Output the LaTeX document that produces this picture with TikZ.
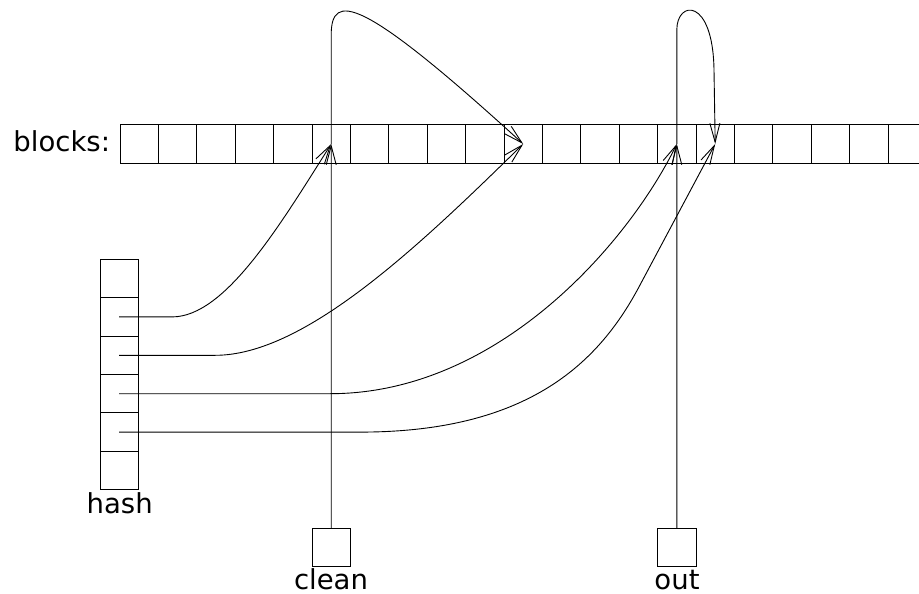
\documentclass[tikz,border=0pt]{standalone}
\usepackage{fontspec}
\setmainfont{DejaVu Sans}
\usetikzlibrary{arrows.meta}
\begin{document}
\begin{tikzpicture}[x=1pt,y=-1pt,line width=1pt,
  cell/.style={draw,line width=1pt,minimum width=38.4pt,minimum height=38.4pt,inner sep=0pt,outer sep=0pt},
  lbl/.style={inner sep=0pt,outer sep=0pt,text depth=0pt,font=\fontsize{27.5}{32}\selectfont},
  ptr/.style={line width=0.9pt,-{Straight Barb[length=19pt,width=10pt,line width=0.9pt]}}]
\useasboundingbox (0,0) rectangle (919,594);
% blocks row
\foreach \i in {0,...,19} \node[cell] (b\i) at ({139.2+38.4*\i},144) {};
\coordinate (rtop) at (919,124.8);
\coordinate (rbot) at (919,163.2);
\draw (b19.north east) -- (rtop);
\draw (b19.south east) -- (rbot);
\node[lbl,anchor=base east] (blabel) at (110,151) {blocks:};
% hash column
\foreach \i in {0,...,5} \node[cell] (h\i) at (119.2,{278.5+38.4*\i}) {};
\node[lbl,anchor=base] (hlabel) at (119.7,513) {hash};
% clean and out
\node[cell] (clean) at (331.2,547.5) {};
\node[lbl,anchor=base] (cleanlabel) at (331,589) {clean};
\node[cell] (out) at (676.8,547.5) {};
\node[lbl,anchor=base] (outlabel) at (677,589) {out};
% pointers from clean and out
\draw[ptr] (clean.north) -- (b5.center);
\draw[ptr] (out.north) -- (b14.center);
% list links
\draw[ptr] (b5.center) -- ++(0,-109) .. controls +(0,-43) and (360,-5) .. (b10.center);
\coordinate (ol) at (714,70);
\draw[ptr] (b14.center) -- ++(0,-114) .. controls +(0,-30) and (713,-3) .. (ol) -- (b15.center);
% hash pointers
\draw[ptr] (h1.center) -- ++(53,0) .. controls +(53,0) and (280,225) .. (b5.center);
\draw[ptr] (h2.center) -- ++(96,0) .. controls +(90,0) and (420,245) .. (b10.center);
\draw[ptr] (h3.center) -- ++(211,0) .. controls +(170,0) and (630,240) .. (b14.center);
\coordinate (hk) at (640,285);
\draw[ptr] (h4.center) -- ++(241,0) .. controls +(170,0) and (600,361) .. (hk) -- (b15.center);
\end{tikzpicture}
\end{document}
